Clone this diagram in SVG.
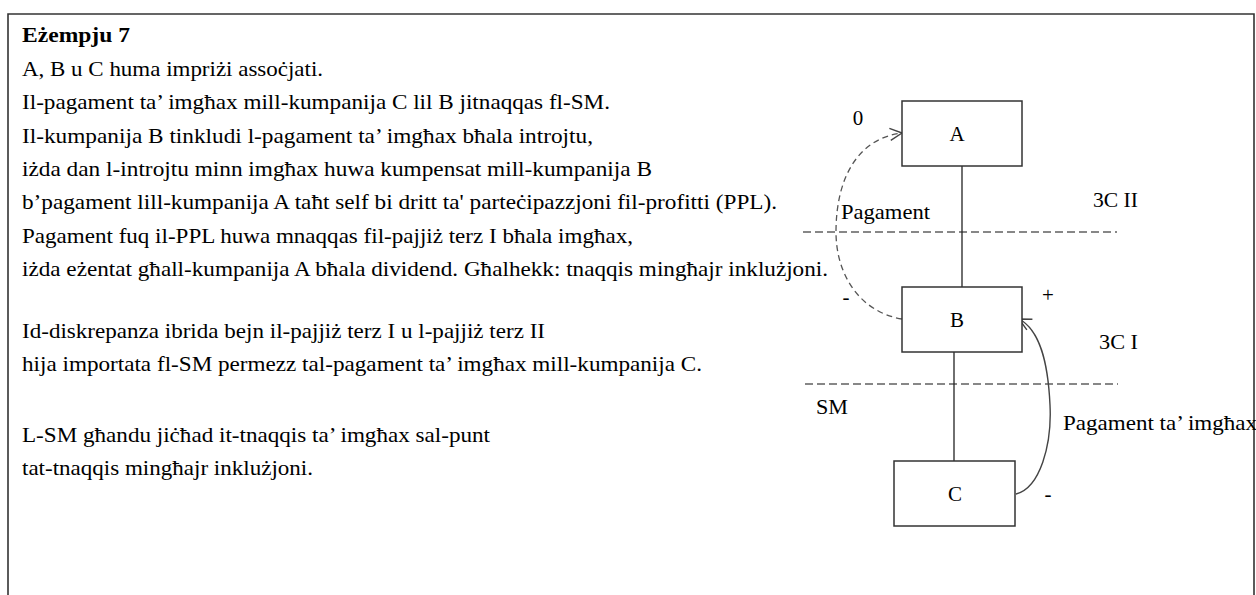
<svg xmlns="http://www.w3.org/2000/svg" width="1256" height="595" viewBox="0 0 1256 595">
  <style>
    .t { font-family: "Liberation Serif", "Times New Roman", serif; font-size: 21px; fill: #000; }
    .b { font-weight: bold; }
    .mid { text-anchor: middle; }
    .box { fill: #fff; stroke: #333; stroke-width: 1.5; }
    .link { stroke: #222; stroke-width: 1.3; fill: none; }
    .divider { stroke: #111; stroke-width: 1.2; stroke-dasharray: 8 4; fill: none; }
    .flow-dash { stroke: #555; stroke-width: 1.3; stroke-dasharray: 6 4; fill: none; }
    .flow { stroke: #444; stroke-width: 1.4; fill: none; }
  </style>
  <defs>
    <marker id="openArrow" markerUnits="userSpaceOnUse" markerWidth="14" markerHeight="14" refX="12" refY="6" orient="auto" overflow="visible">
      <path d="M0,0 L12,6 L0,12" fill="none" stroke="#444" stroke-width="1.4"/>
    </marker>
  </defs>

  <rect width="1256" height="595" fill="#fff"/>
  <!-- frame (open at the bottom) -->
  <path d="M8,600 V14 H1254 V600" fill="none" stroke="#333" stroke-width="1.6"/>

  <!-- explanatory text -->
  <g id="text-block">
    <text class="t b" x="22" y="42" textLength="108" lengthAdjust="spacingAndGlyphs">Eżempju 7</text>
    <text class="t" x="22" y="76" textLength="301" lengthAdjust="spacingAndGlyphs">A, B u C huma impriżi assoċjati.</text>
    <text class="t" x="22" y="109" textLength="588" lengthAdjust="spacingAndGlyphs">Il-pagament ta’ imgħax mill-kumpanija C lil B jitnaqqas fl-SM.</text>
    <text class="t" x="22" y="143" textLength="571" lengthAdjust="spacingAndGlyphs">Il-kumpanija B tinkludi l-pagament ta’ imgħax bħala introjtu,</text>
    <text class="t" x="22" y="176" textLength="630" lengthAdjust="spacingAndGlyphs">iżda dan l-introjtu minn imgħax huwa kumpensat mill-kumpanija B</text>
    <text class="t" x="22" y="209" textLength="755" lengthAdjust="spacingAndGlyphs">b’pagament lill-kumpanija A taħt self bi dritt ta' parteċipazzjoni fil-profitti (PPL).</text>
    <text class="t" x="22" y="243" textLength="611" lengthAdjust="spacingAndGlyphs">Pagament fuq il-PPL huwa mnaqqas fil-pajjiż terz I bħala imgħax,</text>
    <text class="t" x="22" y="276" textLength="806" lengthAdjust="spacingAndGlyphs">iżda eżentat għall-kumpanija A bħala dividend. Għalhekk: tnaqqis mingħajr inklużjoni.</text>
    <text class="t" x="22" y="338" textLength="523" lengthAdjust="spacingAndGlyphs">Id-diskrepanza ibrida bejn il-pajjiż terz I u l-pajjiż terz II</text>
    <text class="t" x="22" y="371" textLength="680" lengthAdjust="spacingAndGlyphs">hija importata fl-SM permezz tal-pagament ta’ imgħax mill-kumpanija C.</text>
    <text class="t" x="22" y="442" textLength="468" lengthAdjust="spacingAndGlyphs">L-SM għandu jiċħad it-tnaqqis ta’ imgħax sal-punt</text>
    <text class="t" x="22" y="475" textLength="291" lengthAdjust="spacingAndGlyphs">tat-tnaqqis mingħajr inklużjoni.</text>
  </g>

  <!-- jurisdiction dividers and labels -->
  <g id="dividers">
    <line class="divider" x1="803" y1="232" x2="1117" y2="232"/>
    <line class="divider" x1="805" y1="384" x2="1118" y2="384"/>
    <text class="t" x="1093" y="207" textLength="45" lengthAdjust="spacingAndGlyphs">3C II</text>
    <text class="t" x="1099" y="349" textLength="39" lengthAdjust="spacingAndGlyphs">3C I</text>
    <text class="t" x="816" y="414" textLength="32" lengthAdjust="spacingAndGlyphs">SM</text>
  </g>

  <!-- connectors -->
  <g id="connectors">
    <line class="link" x1="962" y1="166" x2="962" y2="287"/>
    <line class="link" x1="954" y1="352" x2="954" y2="461"/>
    <path class="flow-dash" d="M902,319 C860,312 836,275 836,232 C836,175 860,138 902,133" marker-end="url(#openArrow)"/>
    <path class="flow" d="M1016,494 C1040,488 1052,445 1050,405 C1048,362 1040,330 1019,319" marker-end="url(#openArrow)"/>
    <text class="t" x="841" y="219" textLength="89" lengthAdjust="spacingAndGlyphs">Pagament</text>
    <text class="t" x="1063" y="430" textLength="194" lengthAdjust="spacingAndGlyphs">Pagament ta’ imgħax</text>
    <text class="t mid" x="858" y="125">0</text>
    <text class="t mid" x="846" y="304">-</text>
    <text class="t mid" x="1048" y="302">+</text>
    <text class="t mid" x="1048" y="501">-</text>
  </g>

  <!-- companies -->
  <g id="node-A">
    <rect class="box" x="902" y="101" width="120" height="65"/>
    <text class="t mid" x="957" y="141">A</text>
  </g>
  <g id="node-B">
    <rect class="box" x="902" y="287" width="120" height="65"/>
    <text class="t mid" x="957" y="327">B</text>
  </g>
  <g id="node-C">
    <rect class="box" x="894" y="461" width="121" height="65"/>
    <text class="t mid" x="955" y="501">C</text>
  </g>
</svg>
